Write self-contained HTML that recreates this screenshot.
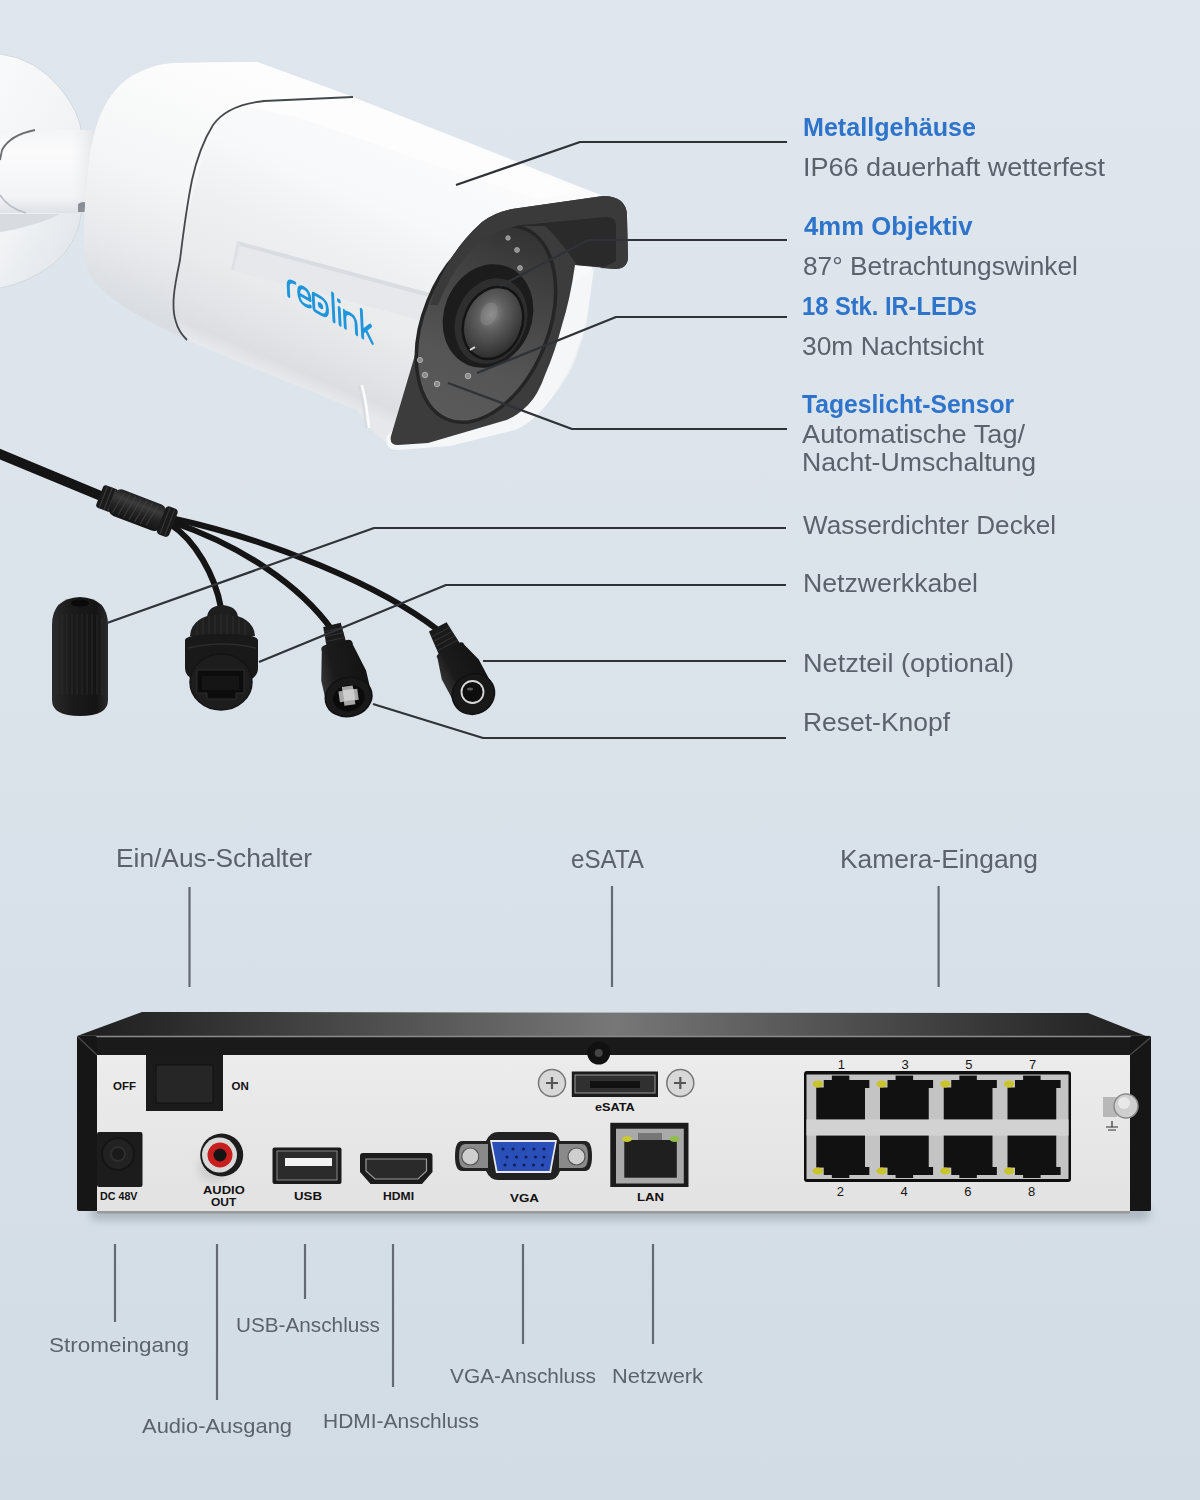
<!DOCTYPE html>
<html><head><meta charset="utf-8"><style>
html,body{margin:0;padding:0;}
body{width:1200px;height:1500px;position:relative;overflow:hidden;background:linear-gradient(180deg,#dfe6ee 0%,#dae2ea 50%,#d2dce5 100%);font-family:"Liberation Sans",sans-serif;}
.t{position:absolute;white-space:nowrap;line-height:1;transform-origin:0 0;}
svg{position:absolute;left:0;top:0;}
</style></head><body>
<svg width="1200" height="1500" viewBox="0 0 1200 1500">
<defs>
<linearGradient id="nvrTop" x1="0" y1="0" x2="1" y2="0"><stop offset="0" stop-color="#1e1e1e"/><stop offset="0.08" stop-color="#2a2a2a"/><stop offset="0.5" stop-color="#777"/><stop offset="0.92" stop-color="#2a2a2a"/><stop offset="1" stop-color="#1e1e1e"/></linearGradient>
<linearGradient id="panel" x1="0" y1="0" x2="0" y2="1"><stop offset="0" stop-color="#ececec"/><stop offset="1" stop-color="#e2e2e2"/></linearGradient>
<linearGradient id="bodyG" x1="0" y1="0" x2="0.3" y2="1"><stop offset="0" stop-color="#fbfbfc"/><stop offset="0.5" stop-color="#f1f3f5"/><stop offset="1" stop-color="#dde1e5"/></linearGradient>
<linearGradient id="armG" x1="0" y1="0" x2="0" y2="1"><stop offset="0" stop-color="#e9ecef"/><stop offset="0.3" stop-color="#fafbfc"/><stop offset="1" stop-color="#d5dadf"/></linearGradient>
<radialGradient id="lensG" cx="0.45" cy="0.45" r="0.6"><stop offset="0" stop-color="#7a7a7a"/><stop offset="0.6" stop-color="#4a4a4a"/><stop offset="1" stop-color="#2a2a2a"/></radialGradient>
<filter id="blur4" x="-20%" y="-50%" width="140%" height="200%"><feGaussianBlur stdDeviation="4"/></filter>
</defs>
<defs>
<linearGradient id="discG" x1="0" y1="0" x2="0.6" y2="1"><stop offset="0" stop-color="#f9fafb"/><stop offset="0.6" stop-color="#f1f3f5"/><stop offset="1" stop-color="#e3e7eb"/></linearGradient>
<linearGradient id="armG2" x1="0" y1="0" x2="0" y2="1"><stop offset="0" stop-color="#f4f5f6"/><stop offset="0.25" stop-color="#fbfbfc"/><stop offset="0.8" stop-color="#f3f4f6"/><stop offset="1" stop-color="#dfe2e6"/></linearGradient>
</defs>
<path d="M0,54 Q35,58 60,88 Q80,112 82,135 L82,210 Q78,245 52,265 Q28,283 0,288 Z" fill="url(#discG)"/>
<path d="M0,54 Q35,58 60,88 Q80,112 82,135 M82,210 Q78,245 52,265 Q28,283 0,288" fill="none" stroke="#d3d8de" stroke-width="1"/>
<!-- under-arm shade -->
<path d="M0,214 L60,214 Q45,222 20,228 Q8,231 0,232 Z" fill="#d8dce1"/>
<!-- arm -->
<path d="M0,130 L99,130 L99,213 L0,213 Z" fill="url(#armG2)"/>
<defs><linearGradient id="neckG" x1="0" y1="0" x2="1" y2="0"><stop offset="0" stop-color="#e6e9ec" stop-opacity="0"/><stop offset="1" stop-color="#d9dde1" stop-opacity="0.9"/></linearGradient></defs>
<rect x="72" y="130" width="27" height="83" fill="url(#neckG)"/>
<path d="M35,130 Q10,135 2,150 L0,160" fill="none" stroke="#6a6d72" stroke-width="1.8"/>
<path d="M0,195 Q8,208 26,213" fill="none" stroke="#b9bfc6" stroke-width="1.5"/>
<path d="M78,204 Q84,200 88,204 L88,212 L78,212 Z" fill="#8a8f95"/>
<defs>
<linearGradient id="rearG" gradientUnits="userSpaceOnUse" x1="200" y1="60" x2="110" y2="300"><stop offset="0" stop-color="#fdfdfd"/><stop offset="0.5" stop-color="#f4f5f6"/><stop offset="0.8" stop-color="#e6e8eb"/><stop offset="1" stop-color="#dadde1"/></linearGradient>
<linearGradient id="frontG" gradientUnits="userSpaceOnUse" x1="257" y1="62" x2="147" y2="321"><stop offset="0" stop-color="#fbfbfc"/><stop offset="0.3" stop-color="#f7f8f9"/><stop offset="0.5" stop-color="#eff0f2"/><stop offset="0.7" stop-color="#eaebed"/><stop offset="0.85" stop-color="#e3e4e7"/><stop offset="0.95" stop-color="#dcdee1"/><stop offset="1" stop-color="#e6e8eb"/></linearGradient>
<linearGradient id="faceG" x1="0" y1="0" x2="1" y2="1"><stop offset="0" stop-color="#5a5a5a"/><stop offset="1" stop-color="#444"/></linearGradient>
<radialGradient id="lensG2" cx="0.42" cy="0.4" r="0.65"><stop offset="0" stop-color="#8a8a8a"/><stop offset="0.35" stop-color="#5e5e5e"/><stop offset="0.8" stop-color="#3a3a3a"/><stop offset="1" stop-color="#2a2a2a"/></radialGradient>
<filter id="soft2"><feGaussianBlur stdDeviation="2"/></filter>
<filter id="soft6" x="-30%" y="-30%" width="160%" height="160%"><feGaussianBlur stdDeviation="6"/></filter>
</defs>
<!-- whole body silhouette -->
<path d="M84,250 C84,200 88,150 97,125 C105,100 120,80 140,72 C150,67 160,64 175,63 L257,62 L353,97 L480,147 L603,196 L628,215 L628,258 Q627,269 610,269 L592,267 Q590,320 580,345 Q570,385 533,417 Q520,428 500,432 L420,447 L392,446 Q375,436 368,425 L357,410 L250,367 L187,340 L150,322 Q110,300 95,282 Q84,268 84,245 Z" fill="url(#frontG)"/>
<!-- top bright band -->
<path d="M160,66 L257,63 L353,98 L480,148 L580,190 L540,200 L420,160 L300,118 L190,95 Q150,92 130,100 Q140,70 160,66 Z" fill="#ffffff" opacity="0.6"/>
<!-- lower dark band -->
<!-- rear block -->
<path d="M84,250 C84,200 88,150 97,125 C105,100 120,80 140,72 C150,67 160,64 175,63 L257,62 L353,97 C300,99 260,99 240,108 C220,118 210,135 202,160 C192,195 180,245 174,285 C170,310 172,330 187,340 L150,322 Q110,300 95,282 Q84,268 84,245 Z" fill="url(#rearG)"/>
<!-- seam -->
<path d="M353,97 C310,99 280,100 264,101 C245,103 225,108 213,125 C205,138 197,157 192,180 C188,200 183,235 180,260 C176,280 170,305 176,322 C178,330 182,335 187,340" fill="none" stroke="#45484d" stroke-width="1.8"/>
<!-- logo recess -->
<path d="M237,241 L437,295 L430,323 L231,270 Z" fill="#e6e8eb"/>
<path d="M237,241 L437,295 L436,299 L237,245 Z" fill="#d9dde1"/>
<path d="M237,241 L231,270 L234,270 L240,244 Z" fill="#dde1e5"/>
<!-- bezel ridge -->
<path d="M359,386 Q364,405 366,428" fill="none" stroke="#d5d8dc" stroke-width="1.5"/><path d="M362,385 Q367,405 369,428" fill="none" stroke="#fbfbfb" stroke-width="2.5"/>
<!-- logo -->
<g transform="matrix(0.87,0.49,0.05,1,287,295)" fill="none" stroke="#1f96dc" stroke-width="3.4" stroke-linecap="round" stroke-linejoin="round">
<path d="M2,0 L2,-10 Q2,-17 10,-17"/>
<path d="M15,-8 L27,-8 Q27,-17 20.5,-17 Q14,-17 14,-8.5 Q14,0 21,0 Q25,0 27,-2"/>
<path d="M33,-17 L40,-17 Q47,-17 47,-9 Q47,0 39,0 L33,0 Q31,0 31,-2 L31,-15 Q31,-17 33,-17 Z"/>
<path d="M54,-28 L54,0"/>
<path d="M61,-17 L61,0"/>
<path d="M67,0 L67,-17 M67,-10 Q67,-17 73.5,-17 Q80,-17 80,-10 L80,0"/>
<path d="M87,-28 L87,0 M97,-17 L88,-7 M91,-10 L98,0"/>
</g>
<circle cx="0" cy="0" r="2.2" fill="#1f96dc" transform="matrix(0.87,0.49,0.05,1,287,295) translate(61,-24)"/>
<circle cx="0" cy="0" r="3.2" fill="#1f96dc" transform="matrix(0.87,0.49,0.05,1,287,295) translate(39,-8.5)"/>
<!-- front face -->
<path d="M594,268 Q590,300 585,322 Q578,352 566,375 Q552,400 540,412 Q528,425 515,430 L450,446 L398,450 Q384,450 387,436 L393,430 Z" fill="#f4f6f8"/>
<path d="M398,445 Q389,445 391,436 L415,355 L430,305 Q445,255 482,222 Q495,212 512,209 L603,196 Q626,196 627,215 L628,258 Q627,269 615,269 L575,265 Q570,300 562,325 Q555,352 545,375 Q538,395 528,405 Q515,418 503,421 L428,443 Z" fill="#3c3c3c"/>
<!-- IR window -->
<defs><linearGradient id="winG" x1="0" y1="0" x2="0" y2="1"><stop offset="0" stop-color="#333"/><stop offset="0.35" stop-color="#454545"/><stop offset="0.7" stop-color="#555"/><stop offset="1" stop-color="#5a5a5a"/></linearGradient></defs>
<ellipse cx="486" cy="324" rx="62.5" ry="103" transform="rotate(22 486 324)" fill="url(#winG)" stroke="#252525" stroke-width="3.5"/>
<!-- hood band + interior -->
<path d="M430,305 Q445,255 482,222 Q495,212 512,209 L603,196 Q626,196 627,215 L628,258 Q627,269 615,269 L600,268 L616,261 L616,224 Q615,216 605,217 L540,222 Q505,226 482,240 Q455,262 438,305 Z" fill="#3a3a3a"/>
<path d="M512,226 L605,217 Q615,216 616,224 L616,261 L604,267 L577,265 Q560,240 545,226 Z" fill="#2a2a2a"/>
<!-- lens barrel -->
<ellipse cx="488" cy="316" rx="44" ry="53" transform="rotate(22 488 316)" fill="#1c1c1c"/>
<ellipse cx="491" cy="321" rx="35" ry="44" transform="rotate(22 491 321)" fill="#2e2e2e"/>
<ellipse cx="493" cy="323" rx="29" ry="37" transform="rotate(22 493 323)" fill="url(#lensG2)" stroke="#141414" stroke-width="2.5"/>
<ellipse cx="489" cy="314" rx="8" ry="12" transform="rotate(22 489 314)" fill="#9a9a9a" opacity="0.3"/>
<path d="M470,350 L475,347" stroke="#ddd" stroke-width="2"/>
<!-- LEDs -->
<g fill="#8c8c8c" stroke="#bdbdbd" stroke-width="0.8">
<circle cx="420" cy="360" r="2.6"/><circle cx="425" cy="375" r="2.8"/><circle cx="437" cy="384" r="2.8"/><circle cx="468" cy="376" r="2.8"/>
<circle cx="520" cy="268" r="2.4"/><circle cx="517" cy="250" r="2.4"/><circle cx="508" cy="238" r="2.2"/>
</g>
<defs>
<linearGradient id="capG" x1="0" y1="0" x2="1" y2="0"><stop offset="0" stop-color="#2a2a2a"/><stop offset="0.35" stop-color="#1a1a1a"/><stop offset="0.8" stop-color="#151515"/><stop offset="1" stop-color="#2b2b2b"/></linearGradient>
<linearGradient id="connG" x1="0" y1="0" x2="1" y2="0"><stop offset="0" stop-color="#333"/><stop offset="0.3" stop-color="#1b1b1b"/><stop offset="1" stop-color="#141414"/></linearGradient>
</defs>
<g fill="none" stroke="#141414" stroke-linecap="round">
<path d="M-5,452 L101,496" stroke-width="10"/>
<path d="M170,524 C195,540 215,575 221,608" stroke-width="6"/>
<path d="M172,522 C240,545 300,585 332,630" stroke-width="6"/>
<path d="M175,519 C270,540 380,585 438,630" stroke-width="6"/>
</g>
<!-- splitter -->
<defs><linearGradient id="splG" x1="0" y1="0" x2="0" y2="1"><stop offset="0" stop-color="#222"/><stop offset="0.3" stop-color="#3a3a3a"/><stop offset="0.6" stop-color="#232323"/><stop offset="1" stop-color="#141414"/></linearGradient></defs>
<g transform="translate(137,510) rotate(21)">
<rect x="-40" y="-12" width="16" height="24" rx="3" fill="#1a1a1a"/>
<g stroke="#3a3a3a" stroke-width="1.2"><line x1="-36" y1="-11" x2="-36" y2="11"/><line x1="-31" y1="-12" x2="-31" y2="12"/><line x1="-27" y1="-12" x2="-27" y2="12"/></g>
<rect x="-27" y="-14" width="55" height="28" rx="7" fill="url(#splG)"/>
<g stroke="#454545" stroke-width="1" opacity="0.8"><line x1="-18" y1="-11" x2="-22" y2="11"/><line x1="-12" y1="-12" x2="-16" y2="12"/><line x1="-6" y1="-12" x2="-10" y2="12"/><line x1="0" y1="-12" x2="-4" y2="12"/><line x1="6" y1="-12" x2="2" y2="12"/><line x1="12" y1="-12" x2="8" y2="12"/><line x1="18" y1="-11" x2="14" y2="11"/></g>
<rect x="26" y="-15" width="13" height="30" rx="4" fill="#1a1a1a"/>
<g stroke="#353535" stroke-width="1.2"><line x1="30" y1="-14" x2="30" y2="14"/><line x1="35" y1="-14" x2="35" y2="14"/></g>
</g>
<!-- cap -->
<path d="M52,625 Q52,598 80,597 Q108,598 108,625 L108,700 Q108,716 80,716 Q52,716 52,700 Z" fill="url(#capG)"/>
<ellipse cx="80" cy="603" rx="9" ry="3.5" fill="#0a0a0a"/>
<g stroke="#2c2c2c" stroke-width="0.9">
<line x1="57" y1="618" x2="57" y2="695"/><line x1="62" y1="615" x2="62" y2="695"/><line x1="67" y1="614" x2="67" y2="695"/><line x1="72" y1="614" x2="72" y2="695"/><line x1="77" y1="614" x2="77" y2="695"/><line x1="82" y1="614" x2="82" y2="695"/><line x1="87" y1="614" x2="87" y2="695"/><line x1="92" y1="614" x2="92" y2="695"/><line x1="97" y1="615" x2="97" y2="695"/><line x1="102" y1="618" x2="102" y2="695"/>
</g>
<!-- RJ45 connector -->
<path d="M207,617 Q208,606 222,605 Q237,606 238,617 Z" fill="#1e1e1e"/>
<path d="M190,636 Q191,616 222,613 Q254,616 255,636 Z" fill="#1f1f1f"/>
<g stroke="#2f2f2f" stroke-width="0.9"><line x1="197" y1="622" x2="197" y2="636"/><line x1="203" y1="618" x2="203" y2="636"/><line x1="209" y1="616" x2="209" y2="636"/><line x1="215" y1="615" x2="215" y2="636"/><line x1="221" y1="614" x2="221" y2="636"/><line x1="227" y1="615" x2="227" y2="636"/><line x1="233" y1="616" x2="233" y2="636"/><line x1="239" y1="618" x2="239" y2="636"/><line x1="245" y1="622" x2="245" y2="636"/></g>
<path d="M185,640 Q186,634 222,634 Q257,634 258,640 L258,668 Q258,676 250,680 L194,680 Q185,676 185,668 Z" fill="#191919"/>
<path d="M188,648 Q222,640 256,648" fill="none" stroke="#2c2c2c" stroke-width="1.5"/>
<ellipse cx="221" cy="682" rx="31" ry="28" fill="#1d1d1d" stroke="#141414" stroke-width="1.5"/>
<path d="M197,670 L244,670 L244,693 L236,693 L236,699 L207,699 L207,693 L197,693 Z" fill="#0c0c0c" stroke="#333" stroke-width="0.8"/>
<path d="M202,676 L239,676 L239,690 L202,690 Z" fill="#151515"/>
<!-- reset connector -->
<g transform="translate(348.6,697) rotate(-13)">
<path d="M-9,-74 L9,-74 L10,-54 L-10,-54 Z" fill="#1a1a1a"/>
<g stroke="#333" stroke-width="1"><line x1="-9" y1="-69" x2="9" y2="-69"/><line x1="-9.5" y1="-64" x2="9.5" y2="-64"/><line x1="-10" y1="-59" x2="10" y2="-59"/></g>
<path d="M-16,-50 Q-17,-56 -10,-56 L10,-56 Q17,-56 16,-50 L23,-22 L23,0 L-23,0 L-23,-22 Z" fill="url(#connG)"/>
<ellipse cx="0" cy="0" rx="23.5" ry="19.5" fill="#191919" stroke="#111" stroke-width="1.5"/>
<ellipse cx="0" cy="1" rx="16" ry="13" fill="#0b0b0b"/>
</g>
<path d="M343,686 L354,686 L354,690 L358,690 L358,701 L354,701 L354,705 L343,705 L343,701 L339,701 L339,690 L343,690 Z" fill="#a8a8a8" transform="rotate(-8 349 695)"/>
<rect x="343.5" y="689.5" width="11" height="11" fill="#cdcdcd" transform="rotate(-8 349 695)"/>
<!-- DC connector -->
<g transform="translate(473.4,694) rotate(-28)">
<path d="M-10,-76 L10,-76 L12,-50 L-12,-50 Z" fill="#1a1a1a"/>
<g stroke="#333" stroke-width="1"><line x1="-10" y1="-70" x2="10" y2="-70"/><line x1="-10.5" y1="-65" x2="10.5" y2="-65"/><line x1="-11" y1="-60" x2="11" y2="-60"/><line x1="-11.5" y1="-55" x2="11.5" y2="-55"/></g>
<path d="M-15,-48 Q-16,-52 -10,-52 L10,-52 Q16,-52 15,-48 L21,-28 L21,0 L-21,0 L-21,-28 Z" fill="url(#connG)"/>
<ellipse cx="0" cy="0" rx="21.5" ry="20" fill="#181818" stroke="#111" stroke-width="1.5"/>
</g>
<circle cx="472.5" cy="692" r="11" fill="#0e0e0e" stroke="#d8d8d8" stroke-width="1.8"/>
<ellipse cx="470" cy="689" rx="3" ry="1.5" fill="#555"/>
<!-- shadow -->
<rect x="90" y="1206" width="1060" height="14" rx="6" fill="#8e98a3" opacity="0.55" filter="url(#blur4)"/>
<!-- top surface -->
<polygon points="142,1012 1088,1013 1151,1038 77,1036" fill="url(#nvrTop)"/>
<!-- front frame -->
<rect x="77" y="1036" width="1074" height="175" rx="2" fill="#1a1a1a"/>
<line x1="78" y1="1036.5" x2="1150" y2="1036.5" stroke="#8a8a8a" stroke-width="1.6"/>
<!-- panel -->
<rect x="97" y="1055" width="1033" height="158" fill="url(#panel)"/>
<rect x="97" y="1211" width="1033" height="2.5" fill="#9a9a9a"/>
<!-- frame columns over panel -->
<rect x="77" y="1036" width="20" height="174" rx="2" fill="#161616"/>
<rect x="1130" y="1036" width="21" height="175" rx="2" fill="#161616"/>
<line x1="78" y1="1037" x2="97" y2="1055" stroke="#4a4a4a" stroke-width="1.2"/><line x1="1150" y1="1038" x2="1130" y2="1055" stroke="#4a4a4a" stroke-width="1.2"/>
<!-- switch -->
<rect x="146" y="1055" width="77" height="56" fill="#1b1b1b"/>
<rect x="156" y="1065" width="57" height="38" fill="#262626" stroke="#111" stroke-width="1"/>
<g font-family="Liberation Sans" font-weight="700" fill="#111" font-size="11.5">
<text x="113" y="1089.5">OFF</text>
<text x="231.5" y="1089.5">ON</text>
<text x="100" y="1200" font-size="10.5" textLength="37.5" lengthAdjust="spacingAndGlyphs">DC  48V</text>
<text x="203" y="1194" font-size="11" textLength="41.7" lengthAdjust="spacingAndGlyphs">AUDIO</text>
<text x="211" y="1205.8" font-size="11" textLength="25.3" lengthAdjust="spacingAndGlyphs">OUT</text>
<text x="294" y="1200" font-size="11" textLength="28" lengthAdjust="spacingAndGlyphs">USB</text>
<text x="383" y="1200" font-size="11" textLength="31" lengthAdjust="spacingAndGlyphs">HDMI</text>
<text x="510" y="1202" font-size="11" textLength="29" lengthAdjust="spacingAndGlyphs">VGA</text>
<text x="637" y="1201" font-size="11" textLength="27" lengthAdjust="spacingAndGlyphs">LAN</text>
<text x="595" y="1110.5" font-size="10.5" textLength="39.8" lengthAdjust="spacingAndGlyphs">eSATA</text>
</g>
<!-- DC jack -->
<rect x="97" y="1132" width="45.5" height="55" rx="2" fill="#1c1c1c"/>
<circle cx="118" cy="1154" r="16" fill="#222" stroke="#151515" stroke-width="2"/>
<circle cx="118" cy="1154" r="7" fill="#1a1a1a" stroke="#2e2e2e" stroke-width="2"/>
<!-- RCA -->
<ellipse cx="214" cy="1168" rx="16" ry="14" fill="#b8b8b8" opacity="0.5" filter="url(#blur4)"/>
<circle cx="221.7" cy="1155" r="21.5" fill="#1c1c1c"/>
<circle cx="219.5" cy="1155" r="17.5" fill="#d9d9d9"/>
<circle cx="220" cy="1155" r="12.5" fill="#c81e1e"/>
<circle cx="220" cy="1155" r="6.5" fill="#141414"/>
<!-- USB -->
<rect x="272.5" y="1147.5" width="69" height="36.5" rx="2" fill="#1b1b1b"/>
<rect x="277" y="1151" width="60" height="29" fill="#2b2b2b" stroke="#888" stroke-width="1"/>
<rect x="285" y="1158" width="47" height="8" fill="#f2f2f2"/>
<!-- HDMI -->
<path d="M360,1156 Q360,1153 363,1153 L429.5,1153 Q432.5,1153 432.5,1156 L432.5,1172 L422,1184 L370.5,1184 L360,1172 Z" fill="#1b1b1b"/>
<path d="M366,1159 L426.5,1159 L426.5,1171 L418,1179 L375,1179 L366,1171 Z" fill="#2a2a2a" stroke="#9a9a9a" stroke-width="1.2"/>
<!-- VGA -->
<path d="M462,1141 L486,1141 Q490,1132 498,1132 L549,1132 Q557,1132 560,1141 L585,1141 Q592,1141 592,1156 Q592,1171 585,1171 L560,1171 Q557,1180 549,1180 L498,1180 Q490,1180 486,1171 L462,1171 Q455,1171 455,1156 Q455,1141 462,1141 Z" fill="#222"/>
<path d="M465,1144 L488,1144 L488,1168 L465,1168 Q459,1168 459,1156 Q459,1144 465,1144 Z" fill="#8a8a8a"/>
<path d="M559,1144 L582,1144 Q588,1144 588,1156 Q588,1168 582,1168 L559,1168 Z" fill="#8a8a8a"/>
<circle cx="470.3" cy="1156.5" r="8.5" fill="#cfcfcf" stroke="#555" stroke-width="1.2"/>
<circle cx="576.5" cy="1156.5" r="8.5" fill="#cfcfcf" stroke="#555" stroke-width="1.2"/>
<path d="M490,1140 L557,1140 L551,1173 L496,1173 Z" fill="#e8e8f0" />
<path d="M492,1142 L555,1142 L549.5,1171 L497.5,1171 Z" fill="#2a4fb8"/>
<g fill="#0e1f5a">
<circle cx="503" cy="1149" r="1.6"/><circle cx="513" cy="1149" r="1.6"/><circle cx="523.5" cy="1149" r="1.6"/><circle cx="534" cy="1149" r="1.6"/><circle cx="544" cy="1149" r="1.6"/>
<circle cx="507" cy="1157" r="1.6"/><circle cx="516.5" cy="1157" r="1.6"/><circle cx="526" cy="1157" r="1.6"/><circle cx="535.5" cy="1157" r="1.6"/><circle cx="544" cy="1157" r="1.6"/>
<circle cx="505" cy="1165" r="1.6"/><circle cx="514.5" cy="1165" r="1.6"/><circle cx="524" cy="1165" r="1.6"/><circle cx="533.5" cy="1165" r="1.6"/><circle cx="542.5" cy="1165" r="1.6"/>
</g>
<!-- LAN -->
<rect x="610.3" y="1122.8" width="78.2" height="64.2" fill="#1b1b1b"/>
<rect x="616" y="1128.7" width="67.8" height="54.8" fill="#a9a9a9"/>
<rect x="624.3" y="1140" width="52.5" height="37.7" fill="#1f1f1f"/>
<rect x="638" y="1133" width="24" height="7" fill="#777"/>
<ellipse cx="627" cy="1139" rx="5" ry="3" fill="#c8c832"/>
<ellipse cx="674.5" cy="1139" rx="5" ry="3" fill="#8fbf4a"/>
<!-- eSATA -->
<rect x="571.8" y="1071.5" width="86.2" height="25.5" fill="#1b1b1b"/>
<rect x="575" y="1075" width="80" height="18" fill="#303030" stroke="#999" stroke-width="1"/>
<rect x="590" y="1081" width="50" height="7" fill="#111"/>
<circle cx="552" cy="1083" r="13.5" fill="#d8d8d8" stroke="#777" stroke-width="1.5"/>
<circle cx="680.3" cy="1083" r="13.5" fill="#d8d8d8" stroke="#777" stroke-width="1.5"/>
<path d="M546,1083 L558,1083 M552,1077 L552,1089" stroke="#555" stroke-width="2.2"/>
<path d="M674,1083 L686,1083 M680.3,1077 L680.3,1089" stroke="#555" stroke-width="2.2"/>
<circle cx="598.7" cy="1053" r="11.5" fill="#111"/>
<circle cx="598.7" cy="1053" r="4" fill="#444"/>
<!-- PoE block -->
<rect x="804" y="1071" width="267" height="111" rx="3" fill="#0e0e0e"/>
<rect x="806.5" y="1074.5" width="262" height="104.5" fill="#c4c4c4"/>
<rect x="806.5" y="1119.4" width="262" height="16.2" fill="#d2d2d2"/>
<rect x="816.25" y="1087.5" width="48.75" height="31.9" fill="#111"/>
<rect x="823.75" y="1080" width="45.6" height="8" fill="#111"/>
<rect x="831.85" y="1075.6" width="17.5" height="5" fill="#111"/>
<ellipse cx="817.85" cy="1084" rx="5.2" ry="3.4" fill="#c9c428"/>
<rect x="816.25" y="1135.6" width="48.75" height="32" fill="#111"/>
<rect x="823.75" y="1167" width="45.6" height="8" fill="#111"/>
<rect x="831.85" y="1174.5" width="17.5" height="3.5" fill="#111"/>
<ellipse cx="817.85" cy="1171" rx="5.2" ry="3.4" fill="#c9c428"/>
<rect x="880.00" y="1087.5" width="48.75" height="31.9" fill="#111"/>
<rect x="887.50" y="1080" width="45.6" height="8" fill="#111"/>
<rect x="895.60" y="1075.6" width="17.5" height="5" fill="#111"/>
<ellipse cx="881.60" cy="1084" rx="5.2" ry="3.4" fill="#c9c428"/>
<rect x="880.00" y="1135.6" width="48.75" height="32" fill="#111"/>
<rect x="887.50" y="1167" width="45.6" height="8" fill="#111"/>
<rect x="895.60" y="1174.5" width="17.5" height="3.5" fill="#111"/>
<ellipse cx="881.60" cy="1171" rx="5.2" ry="3.4" fill="#c9c428"/>
<rect x="943.75" y="1087.5" width="48.75" height="31.9" fill="#111"/>
<rect x="951.25" y="1080" width="45.6" height="8" fill="#111"/>
<rect x="959.35" y="1075.6" width="17.5" height="5" fill="#111"/>
<ellipse cx="945.35" cy="1084" rx="5.2" ry="3.4" fill="#c9c428"/>
<rect x="943.75" y="1135.6" width="48.75" height="32" fill="#111"/>
<rect x="951.25" y="1167" width="45.6" height="8" fill="#111"/>
<rect x="959.35" y="1174.5" width="17.5" height="3.5" fill="#111"/>
<ellipse cx="945.35" cy="1171" rx="5.2" ry="3.4" fill="#c9c428"/>
<rect x="1007.50" y="1087.5" width="48.75" height="31.9" fill="#111"/>
<rect x="1015.00" y="1080" width="45.6" height="8" fill="#111"/>
<rect x="1023.10" y="1075.6" width="17.5" height="5" fill="#111"/>
<ellipse cx="1009.10" cy="1084" rx="5.2" ry="3.4" fill="#c9c428"/>
<rect x="1007.50" y="1135.6" width="48.75" height="32" fill="#111"/>
<rect x="1015.00" y="1167" width="45.6" height="8" fill="#111"/>
<rect x="1023.10" y="1174.5" width="17.5" height="3.5" fill="#111"/>
<ellipse cx="1009.10" cy="1171" rx="5.2" ry="3.4" fill="#c9c428"/>
<g font-family="Liberation Sans" font-size="13" fill="#161616" text-anchor="middle">
<text x="841.25" y="1068.8">1</text><text x="840.25" y="1195.6">2</text>
<text x="905.00" y="1068.8">3</text><text x="904.00" y="1195.6">4</text>
<text x="968.75" y="1068.8">5</text><text x="967.75" y="1195.6">6</text>
<text x="1032.50" y="1068.8">7</text><text x="1031.50" y="1195.6">8</text>
</g>
<path d="M1103,1097 L1117,1097 L1117,1117 L1103,1117 Z" fill="#b8b8b8"/><circle cx="1126" cy="1106" r="12" fill="#cfcfcf" stroke="#8a8a8a" stroke-width="1.5"/><circle cx="1124" cy="1103" r="6" fill="#e8e8e8"/><path d="M1112,1121 L1112,1127 M1106,1127 L1118,1127 M1108,1130 L1116,1130" stroke="#333" stroke-width="1.2"/><g fill="none" stroke="#2f3237" stroke-width="2.2" stroke-linejoin="round">
<polyline points="456,185 580,142 787,142"/>
<polyline points="500,286 588,240 787,240"/>
<polyline points="477,373 616,317 787,317"/>
<polyline points="448,383 572,429 787,429"/>
<polyline points="107,623 374,528 786,528"/>
<polyline points="259,662 446,585 786,585"/>
<polyline points="483,661 786,661"/>
<polyline points="373,704 483,738 786,738"/>
</g>
<g fill="none" stroke="#646a72" stroke-width="2.2">
<line x1="189.5" y1="887" x2="189.5" y2="987"/>
<line x1="612" y1="886" x2="612" y2="987"/>
<line x1="938.6" y1="886" x2="938.6" y2="987"/>
<line x1="115" y1="1244" x2="115" y2="1322"/>
<line x1="217" y1="1244" x2="217" y2="1400"/>
<line x1="305" y1="1244" x2="305" y2="1299"/>
<line x1="393" y1="1244" x2="393" y2="1387"/>
<line x1="523" y1="1244" x2="523" y2="1344"/>
<line x1="653" y1="1244" x2="653" y2="1344"/>
</g>

</svg>
<div class="t" style="left:802.7px;top:115.1px;font-size:25px;font-weight:700;color:#2f74cb;transform:scaleX(1.004)">Metallgehäuse</div><div class="t" style="left:802.7px;top:154.8px;font-size:25px;font-weight:400;color:#5c626b;transform:scaleX(1.081)">IP66 dauerhaft wetterfest</div><div class="t" style="left:804.0px;top:213.8px;font-size:25px;font-weight:700;color:#2f74cb;transform:scaleX(1.028)">4mm Objektiv</div><div class="t" style="left:802.5px;top:253.8px;font-size:25px;font-weight:400;color:#5c626b;transform:scaleX(1.051)">87° Betrachtungswinkel</div><div class="t" style="left:802.0px;top:293.8px;font-size:25px;font-weight:700;color:#2f74cb;transform:scaleX(0.947)">18 Stk. IR-LEDs</div><div class="t" style="left:802.0px;top:333.5px;font-size:25px;font-weight:400;color:#5c626b;transform:scaleX(1.056)">30m Nachtsicht</div><div class="t" style="left:802.0px;top:392.3px;font-size:25px;font-weight:700;color:#2f74cb;transform:scaleX(0.987)">Tageslicht-Sensor</div><div class="t" style="left:802.0px;top:422.1px;font-size:25px;font-weight:400;color:#5c626b;transform:scaleX(1.087)">Automatische Tag/</div><div class="t" style="left:802.0px;top:449.8px;font-size:25px;font-weight:400;color:#5c626b;transform:scaleX(1.066)">Nacht-Umschaltung</div><div class="t" style="left:803.0px;top:512.6px;font-size:25px;font-weight:400;color:#5c626b;transform:scaleX(1.045)">Wasserdichter Deckel</div><div class="t" style="left:803.0px;top:571.3px;font-size:25px;font-weight:400;color:#5c626b;transform:scaleX(1.067)">Netzwerkkabel</div><div class="t" style="left:803.0px;top:651.3px;font-size:25px;font-weight:400;color:#5c626b;transform:scaleX(1.085)">Netzteil (optional)</div><div class="t" style="left:803.0px;top:710.1px;font-size:25px;font-weight:400;color:#5c626b;transform:scaleX(1.058)">Reset-Knopf</div><div class="t" style="left:116.0px;top:845.8px;font-size:25px;font-weight:400;color:#5c626b;transform:scaleX(1.053)">Ein/Aus-Schalter</div><div class="t" style="left:571.0px;top:846.8px;font-size:25px;font-weight:400;color:#5c626b;transform:scaleX(0.967)">eSATA</div><div class="t" style="left:839.8px;top:846.8px;font-size:25px;font-weight:400;color:#5c626b;transform:scaleX(1.055)">Kamera-Eingang</div><div class="t" style="left:48.8px;top:1334.0px;font-size:21px;font-weight:400;color:#5c626b;transform:scaleX(1.071)">Stromeingang</div><div class="t" style="left:236.2px;top:1314.2px;font-size:21px;font-weight:400;color:#5c626b;transform:scaleX(0.987)">USB-Anschluss</div><div class="t" style="left:142.0px;top:1415.2px;font-size:21px;font-weight:400;color:#5c626b;transform:scaleX(1.045)">Audio-Ausgang</div><div class="t" style="left:322.7px;top:1410.2px;font-size:21px;font-weight:400;color:#5c626b;transform:scaleX(0.998)">HDMI-Anschluss</div><div class="t" style="left:450.0px;top:1365.2px;font-size:21px;font-weight:400;color:#5c626b;transform:scaleX(0.993)">VGA-Anschluss</div><div class="t" style="left:612.0px;top:1365.2px;font-size:21px;font-weight:400;color:#5c626b;transform:scaleX(1.040)">Netzwerk</div>
</body></html>
